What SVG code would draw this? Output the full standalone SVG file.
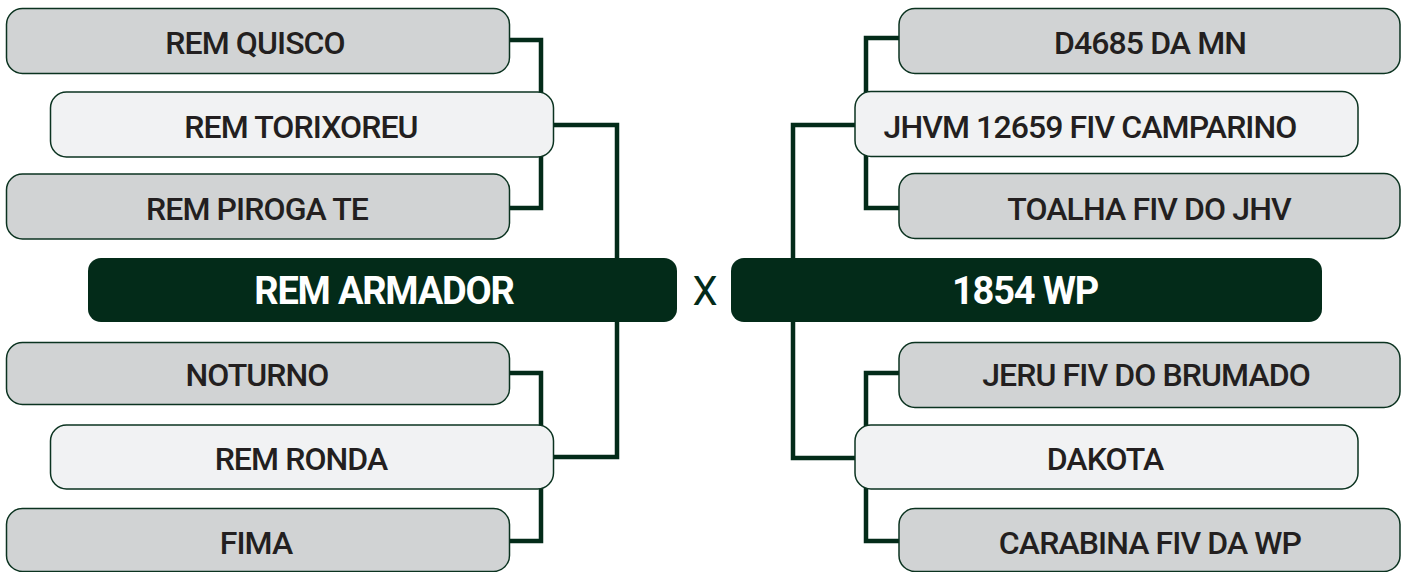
<svg xmlns="http://www.w3.org/2000/svg" width="1410" height="572" viewBox="0 0 1410 572">
<style>
.g{fill:#d1d3d4;stroke:#0b3320;stroke-width:1.5}
.l{fill:#f1f2f3;stroke:#0b3320;stroke-width:1.5}
.d{fill:#032b19}
.t{font-family:Roboto,"Liberation Sans",sans-serif;font-size:32px;font-weight:500;fill:#231f20;text-anchor:middle;letter-spacing:-0.9px}
.b{font-family:Roboto,"Liberation Sans",sans-serif;font-size:38px;font-weight:700;fill:#ffffff;text-anchor:middle;letter-spacing:-1.2px}
.x{font-family:Roboto,"Liberation Sans",sans-serif;font-size:40px;font-weight:400;fill:#032b19;text-anchor:middle}
.c{fill:none;stroke:#032b19;stroke-width:4.5}
</style>
<rect width="1410" height="572" fill="#ffffff"/>
<g id="connectors">
<path class="c" d="M509,40 H541 V208 H509"/>
<path class="c" d="M553,125 H617 V258"/>
<path class="c" d="M509,373 H541 V541 H509"/>
<path class="c" d="M553,457 H617 V322"/>
<path class="c" d="M899,38 H866 V208 H899"/>
<path class="c" d="M855,125 H793 V258"/>
<path class="c" d="M899,373 H866 V541 H899"/>
<path class="c" d="M855,458 H793 V322"/>
</g>
<g id="n-quisco"><rect class="g" x="6.5" y="8.5" width="503" height="65" rx="16"/><text class="t" x="255" y="53.5">REM QUISCO</text></g>
<g id="n-torixoreu"><rect class="l" x="50.5" y="92" width="503" height="65" rx="16"/><text class="t" x="301" y="137.5">REM TORIXOREU</text></g>
<g id="n-piroga"><rect class="g" x="6.5" y="174" width="503" height="65" rx="16"/><text class="t" x="257" y="219.5">REM PIROGA TE</text></g>
<g id="n-armador"><rect class="d" x="88" y="258" width="589" height="64" rx="13"/><text class="b" x="384" y="304">REM ARMADOR</text></g>
<g id="n-x"><text class="x" x="705" y="305">X</text></g>
<g id="n-1854"><rect class="d" x="731" y="258" width="591" height="64" rx="13"/><text class="b" x="1025" y="304">1854 WP</text></g>
<g id="n-noturno"><rect class="g" x="6.5" y="342.5" width="503" height="62" rx="16"/><text class="t" x="257" y="385.5">NOTURNO</text></g>
<g id="n-ronda"><rect class="l" x="50.5" y="425" width="503" height="64" rx="16"/><text class="t" x="301" y="469.5">REM RONDA</text></g>
<g id="n-fima"><rect class="g" x="6.5" y="508.5" width="503" height="63" rx="16"/><text class="t" x="256" y="553.5">FIMA</text></g>
<g id="n-d4685"><rect class="g" x="899" y="8.5" width="501" height="65" rx="16"/><text class="t" x="1150" y="53.5">D4685 DA MN</text></g>
<g id="n-jhvm"><rect class="l" x="855" y="91.5" width="503" height="65" rx="16"/><text class="t" x="1090" y="137.5">JHVM 12659 FIV CAMPARINO</text></g>
<g id="n-toalha"><rect class="g" x="899" y="173.5" width="501" height="65" rx="16"/><text class="t" x="1149" y="219.5">TOALHA FIV DO JHV</text></g>
<g id="n-jeru"><rect class="g" x="899" y="342.5" width="501" height="65" rx="16"/><text class="t" x="1146" y="385.5">JERU FIV DO BRUMADO</text></g>
<g id="n-dakota"><rect class="l" x="855" y="425" width="503" height="64" rx="16"/><text class="t" x="1105" y="469.5">DAKOTA</text></g>
<g id="n-carabina"><rect class="g" x="899" y="508.5" width="501" height="63" rx="16"/><text class="t" x="1150" y="553.5">CARABINA FIV DA WP</text></g>
</svg>
